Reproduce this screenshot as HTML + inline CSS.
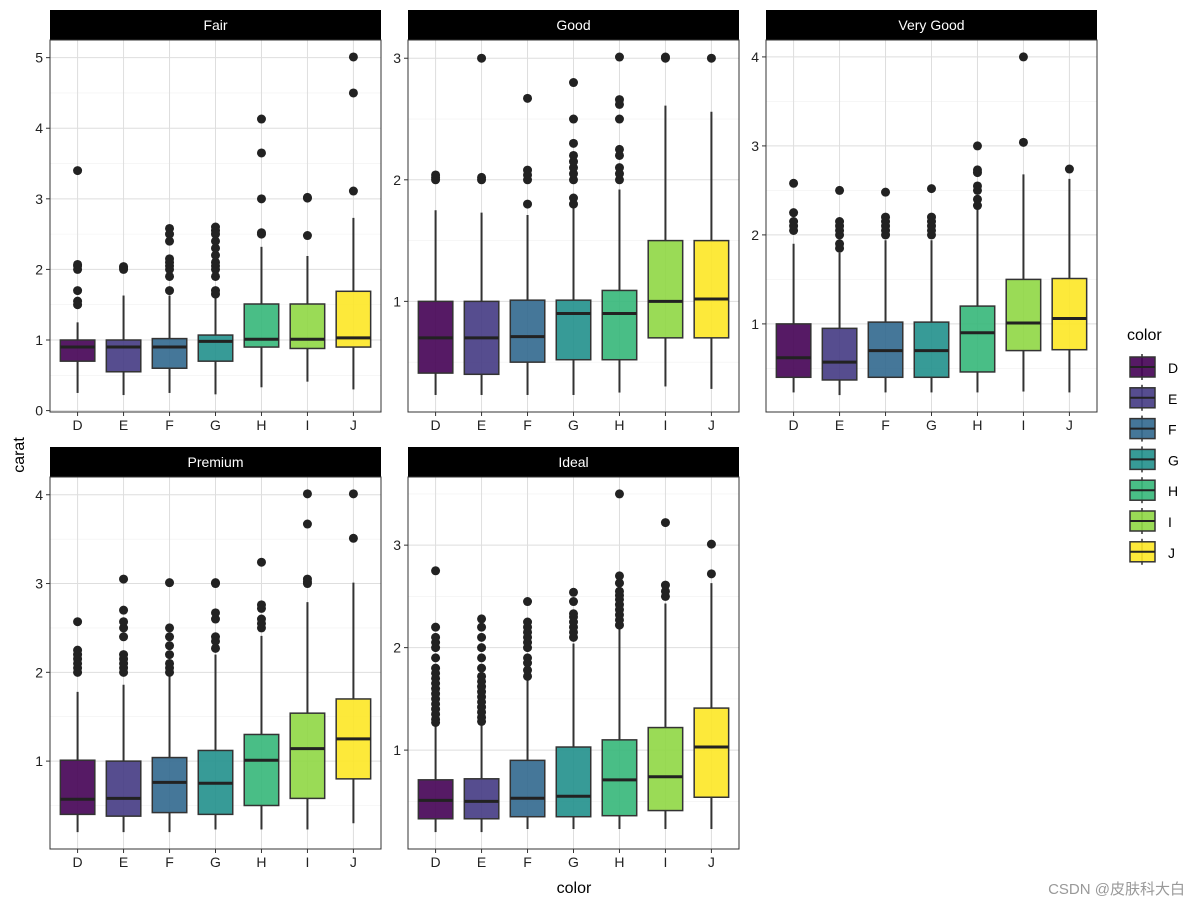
<!DOCTYPE html>
<html><head><meta charset="utf-8"><style>
body{margin:0;background:#fff;font-family:"Liberation Sans","Noto Sans CJK SC",sans-serif}
svg text{font-family:"Liberation Sans","Noto Sans CJK SC",sans-serif}
</style></head><body>
<svg id="c" width="1200" height="907" xmlns="http://www.w3.org/2000/svg"></svg>
<script>
const categories=["D","E","F","G","H","I","J"];
const colors=["#440154","#443A83","#31688E","#21908C","#35B779","#8FD744","#FDE725"];
const panelNames=["Fair","Good","Very Good","Premium","Ideal"];
const panelDomains=[[-0.02,5.25],[0.09,3.15],[0.01,4.19],[0.01,4.2],[0.035,3.665]];
const panelTicks=[[0,1,2,3,4,5],[1,2,3],[1,2,3,4],[1,2,3,4],[1,2,3]];
// [lowWhisker,q1,median,q3,highWhisker]
const statsFair=[[0.25,0.7,0.9,1.0,1.25],[0.22,0.55,0.9,1.0,1.63],[0.25,0.6,0.9,1.02,1.63],[0.23,0.7,0.98,1.07,1.6],[0.33,0.9,1.01,1.51,2.32],[0.41,0.88,1.01,1.51,2.19],[0.3,0.9,1.03,1.69,2.73]];
const statsGood=[[0.23,0.41,0.7,1.0,1.75],[0.23,0.4,0.7,1.0,1.73],[0.23,0.5,0.71,1.01,1.71],[0.23,0.52,0.9,1.01,1.77],[0.25,0.52,0.9,1.09,1.92],[0.3,0.7,1.0,1.5,2.61],[0.28,0.7,1.02,1.5,2.56]];
const statsVeryGood=[[0.23,0.4,0.62,1.0,1.9],[0.2,0.37,0.57,0.95,1.8],[0.23,0.4,0.7,1.02,1.94],[0.23,0.4,0.7,1.02,1.94],[0.23,0.46,0.9,1.2,2.3],[0.24,0.7,1.01,1.5,2.68],[0.23,0.71,1.06,1.51,2.63]];
const statsPremium=[[0.2,0.4,0.57,1.01,1.78],[0.2,0.38,0.58,1.0,1.86],[0.2,0.42,0.76,1.04,1.96],[0.23,0.4,0.75,1.12,2.2],[0.23,0.5,1.01,1.3,2.41],[0.23,0.58,1.14,1.54,2.79],[0.3,0.8,1.25,1.7,3.01]];
const statsIdeal=[[0.2,0.33,0.51,0.71,1.24],[0.2,0.33,0.5,0.72,1.26],[0.23,0.35,0.53,0.9,1.7],[0.23,0.35,0.55,1.03,2.04],[0.23,0.36,0.71,1.1,2.2],[0.23,0.41,0.74,1.22,2.43],[0.23,0.54,1.03,1.41,2.63]];
const outFair=[[1.5,1.55,1.7,2.0,2.05,2.07,3.4],[2.0,2.02,2.04],[1.7,1.9,2.0,2.05,2.1,2.15,2.4,2.5,2.58],[1.65,1.7,1.9,2.0,2.05,2.1,2.2,2.3,2.4,2.5,2.55,2.6],[2.5,2.52,3.0,3.65,4.13],[2.48,3.01,3.02],[3.11,4.5,5.01]];
const outGood=[[2.0,2.02,2.04],[2.0,2.02,3.0],[1.8,2.0,2.04,2.08,2.67],[1.8,1.85,2.0,2.05,2.1,2.15,2.2,2.3,2.5,2.8],[2.0,2.05,2.1,2.2,2.25,2.5,2.62,2.66,3.01],[3.0,3.01],[3.0]];
const outVeryGood=[[2.05,2.1,2.15,2.25,2.58],[1.85,1.9,2.0,2.05,2.1,2.15,2.5],[2.0,2.05,2.1,2.15,2.2,2.48],[2.0,2.05,2.1,2.15,2.2,2.52],[2.33,2.4,2.5,2.55,2.7,2.73,3.0],[3.04,4.0],[2.74]];
const outPremium=[[2.0,2.05,2.1,2.15,2.2,2.25,2.57],[2.0,2.05,2.1,2.15,2.2,2.4,2.5,2.57,2.7,3.05],[2.0,2.05,2.1,2.2,2.3,2.4,2.5,3.01],[2.27,2.35,2.4,2.6,2.67,3.0,3.01],[2.5,2.55,2.6,2.72,2.76,3.24],[3.0,3.02,3.05,3.67,4.01],[3.51,4.01]];
const outIdeal=[[1.27,1.3,1.35,1.4,1.45,1.5,1.55,1.6,1.65,1.7,1.75,1.8,1.9,2.0,2.05,2.1,2.2,2.75],[1.28,1.32,1.37,1.42,1.47,1.52,1.57,1.62,1.67,1.72,1.8,1.9,2.0,2.1,2.2,2.28],[1.72,1.78,1.85,1.9,2.0,2.05,2.1,2.15,2.2,2.25,2.45],[2.1,2.15,2.2,2.25,2.3,2.33,2.45,2.54],[2.22,2.27,2.32,2.37,2.42,2.47,2.51,2.55,2.63,2.7,3.5],[2.5,2.55,2.61,3.22],[2.72,3.01]];
const allStats=[statsFair,statsGood,statsVeryGood,statsPremium,statsIdeal];
const allOut=[outFair,outGood,outVeryGood,outPremium,outIdeal];
const panelPos=[[50,10],[408,10],[766,10],[50,447],[408,447]];
const W=331,H=372,SH=30;
const NS="http://www.w3.org/2000/svg";
const svg=document.getElementById('c');
function mk(t,a,p){const e=document.createElementNS(NS,t);for(const k in a)e.setAttribute(k,a[k]);(p||svg).appendChild(e);return e;}
panelNames.forEach((nm,pi)=>{
  const [px,py]=panelPos[pi];const top=py+SH;
  const g=mk('g',{});
  
  
  const [d0,d1]=panelDomains[pi];
  const y=v=>top+H-(v-d0)/(d1-d0)*H;
  const x=i=>px+(i+1-0.4)/7.2*W;
  const s=mk('rect',{x:px,y:py,width:W,height:SH,fill:'#000'},g);
  
  const st=mk('text',{x:px+W/2,y:py+20,'text-anchor':'middle',fill:'#fff','font-size':14},g);st.textContent=nm;
  
  const ticks=panelTicks[pi];
  const minor=[];for(let v=Math.floor(d0*2)/2;v<=d1;v+=0.5){if(v>d0&&!ticks.includes(v))minor.push(v);}
  minor.forEach(v=>mk('line',{x1:px,x2:px+W,y1:y(v),y2:y(v),stroke:'#f0f0f0','stroke-width':0.6},g));
  ticks.forEach(v=>mk('line',{x1:px,x2:px+W,y1:y(v),y2:y(v),stroke:'#dedede','stroke-width':1},g));
  categories.forEach((c,i)=>mk('line',{x1:x(i),x2:x(i),y1:top,y2:top+H,stroke:'#dedede','stroke-width':1},g));
  const bw=0.75/7.2*W;
  categories.forEach((c,i)=>{
    const b=allStats[pi][i];const bg=mk('g',{},g);
    
    mk('line',{x1:x(i),x2:x(i),y1:y(b[0]),y2:y(b[1]),stroke:'#333','stroke-width':2},bg);
    mk('line',{x1:x(i),x2:x(i),y1:y(b[3]),y2:y(b[4]),stroke:'#333','stroke-width':2},bg);
    mk('rect',{x:x(i)-bw/2,y:y(b[3]),width:bw,height:y(b[1])-y(b[3]),fill:colors[i],'fill-opacity':0.9,stroke:'#333','stroke-width':1.5},bg);
    mk('line',{x1:x(i)-bw/2,x2:x(i)+bw/2,y1:y(b[2]),y2:y(b[2]),stroke:'#222','stroke-width':3},bg);
    allOut[pi][i].forEach(v=>{const o=mk('circle',{cx:x(i),cy:y(v),r:4.5,fill:'#222'},bg);
      });
    mk('line',{x1:x(i),x2:x(i),y1:top+H,y2:top+H+4,stroke:'#333'},g);
    const t=mk('text',{x:x(i),y:top+H+18,'text-anchor':'middle','font-size':14,fill:'#222'},g);t.textContent=c;
    
  });
  ticks.forEach(v=>{
    mk('line',{x1:px-4,x2:px,y1:y(v),y2:y(v),stroke:'#333'},g);
    const t=mk('text',{x:px-7,y:y(v)+5,'text-anchor':'end','font-size':14,fill:'#222'},g);t.textContent=v;
    
  });
  mk('rect',{x:px,y:top,width:W,height:H,fill:'none',stroke:'#333','stroke-width':1},g);
});
let t=mk('text',{x:574,y:893,'text-anchor':'middle','font-size':16,fill:'#000'});t.textContent='color';

t=mk('text',{x:24,y:455,'text-anchor':'middle','font-size':16,fill:'#000',transform:'rotate(-90 24 455)'});t.textContent='carat';

t=mk('text',{x:1127,y:340,'font-size':16,fill:'#000'});t.textContent='color';

categories.forEach((c,i)=>{
  const cy=367+i*30.8;const lg=mk('g',{});
  
  mk('line',{x1:1142,x2:1142,y1:cy-13,y2:cy+13,stroke:'#333','stroke-width':1.5},lg);
  mk('rect',{x:1130,y:cy-10,width:25,height:20,fill:colors[i],'fill-opacity':0.9,stroke:'#333','stroke-width':1.5},lg);
  mk('line',{x1:1130,x2:1155,y1:cy,y2:cy,stroke:'#222','stroke-width':2},lg);
  const lt=mk('text',{x:1168,y:cy+6,'font-size':14,fill:'#000'},lg);lt.textContent=c;
});
t=mk('text',{x:1185,y:894,'text-anchor':'end','font-size':15,fill:'#999'});t.textContent='CSDN @皮肤科大白';

</script>
</body></html>
